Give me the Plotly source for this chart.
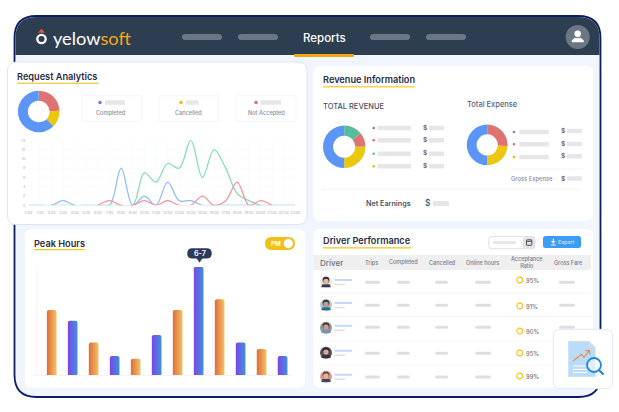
import plotly.graph_objects as go

# ---------- data ----------
hours = list(range(24))
hour_labels = [f"{h}:00" for h in hours]
y_ticks = [0, 2, 4, 6, 8, 10, 12, 14]
N = None
blue_requests = [0, 0, 0, 1, 0, 0, 0, 0, 8, 0, 2, 0, 5, 1, 1, 0, 0, 0, 0, 0, 0, 0, 0, 0]
green_requests = [N, N, 0, 0, 0, N, 0, 0, 0, 0, 7, 5, 9, 8, 14, 6, 12, 8, 2.5, 1, 0, N, N, N]
red_requests = [N, N, N, N, N, N, 0, 1, 0, 0, 1, 0, 1, 0, 0, 2, 0, 1, 5, 0, 1, 0, N, N]

peak_labels = ["11-12", "12-1", "1-2", "2-3", "3-4", "4-5", "5-6", "6-7", "7-8", "8-9", "9-10", "10-11"]
peak_values = [60, 50, 30, 17.5, 15, 37, 60, 100, 70, 30, 24, 17.5]

request_donut = [24.5, 13, 62.5]
revenue_donut = [14, 11, 25, 50]
expense_donut = [26, 24, 50]

stat_labels = ["Completed", "Cancelled", "Not Accepted"]
table_headers = ["Trips", "Completed", "Cancelled", "Online hours", "Acceptance<br>Ratio", "Gross Fare"]
driver_ratio = ["95%", "91%", "90%", "95%", "99%"]

# ---------- colours ----------
BLUE, RED, YEL, GRN = "#5b96f7", "#df7373", "#ebc70e", "#55bd9a"
PILL = "#e6e6e8"
W, H = 619, 412
FONT = "Inter"


def fx(x):
    return x / W


def fy(y):
    return 1 - y / H


shapes, notes = [], []


def rrect(x0, y0, x1, y1, r, fill, line=None, lw=0, layer="below"):
    a, b = x0, x1
    c, d = y0, y1
    p = (f"M {fx(a + r)} {fy(c)} L {fx(b - r)} {fy(c)} Q {fx(b)} {fy(c)} {fx(b)} {fy(c + r)} "
         f"L {fx(b)} {fy(d - r)} Q {fx(b)} {fy(d)} {fx(b - r)} {fy(d)} L {fx(a + r)} {fy(d)} "
         f"Q {fx(a)} {fy(d)} {fx(a)} {fy(d - r)} L {fx(a)} {fy(c + r)} Q {fx(a)} {fy(c)} {fx(a + r)} {fy(c)} Z")
    shapes.append(dict(type="path", path=p, xref="paper", yref="paper", fillcolor=fill, layer=layer,
                       line=dict(color=line or "rgba(0,0,0,0)", width=lw)))


def circ(cx, cy, r, fill, line=None, lw=0):
    shapes.append(dict(type="circle", xref="paper", yref="paper", x0=fx(cx - r), x1=fx(cx + r), y0=fy(cy + r),
                       y1=fy(cy - r), fillcolor=fill, layer="below",
                       line=dict(color=line or "rgba(0,0,0,0)", width=lw)))


def poly(pts, color, lw=1, fill=None, close=False):
    p = "M " + " L ".join(f"{fx(x)} {fy(y)}" for x, y in pts) + (" Z" if close else "")
    shapes.append(dict(type="path", path=p, xref="paper", yref="paper", layer="below",
                       fillcolor=fill or "rgba(0,0,0,0)", line=dict(color=color, width=lw)))


def pill(x0, x1, yc, h, color=PILL):
    rrect(x0, yc - h / 2, x1, yc + h / 2, h / 2, color)


def text(x, y, s, size, color, anchor="left", weight=400, family=FONT, valign="middle"):
    notes.append(dict(x=fx(x), y=fy(y), xref="paper", yref="paper", text=s, showarrow=False, xanchor=anchor,
                      yanchor=valign, borderpad=0, borderwidth=0,
                      font=dict(size=size, color=color, family=family, weight=weight)))


# ---------- frame ----------
FR = "#0d1c66"
rrect(14.5, 16, 600.5, 397, 22, "#f0f5fe", FR, 1.8)
head = (f"M {fx(15.5)} {fy(55)} L {fx(15.5)} {fy(38)} Q {fx(15.5)} {fy(17)} {fx(37)} {fy(17)} L {fx(578)} {fy(17)} "
        f"Q {fx(599.5)} {fy(17)} {fx(599.5)} {fy(38)} L {fx(599.5)} {fy(55)} Z")
shapes.append(dict(type="path", path=head, xref="paper", yref="paper", fillcolor="#2d3e50", layer="below",
                   line=dict(color="rgba(0,0,0,0)", width=0)))

# header
circ(41.5, 39, 4.2, "rgba(0,0,0,0)", "#ffffff", 2.3)
poly([(38.5, 32.5), (41.5, 29), (44.5, 32.5)], "#e4593a", 0.5, "#e4593a", True)
text(52.5, 37.5, "yelow<span style='color:#f5a81c'>soft</span>", 18.2, "#ffffff", weight=400, family="Lato")
for a, b in [(182, 222), (238, 278), (370, 410), (426, 466)]:
    pill(a, b, 37, 6, "#6b7785")
text(324.5, 38, "Reports", 11.5, "#ffffff", "center", 500)
rrect(294, 54, 354, 57, 1, "#f3a712")
circ(577.7, 37, 12, "#6b7785")
circ(577.7, 33.8, 3.2, "#ffffff")
poly([(572, 42), (572, 40.5), (574.5, 38.2), (581, 38.2), (583.5, 40.5), (583.5, 42)], "#ffffff", 0.5, "#ffffff", True)

# ---------- request analytics card ----------
rrect(7.5, 62, 307, 224.5, 9, "#ffffff", "#dfe5f0", 1)
text(17, 76, "Request Analytics", 9.2, "#2a2d45", weight=600)
rrect(17, 82.8, 99, 83.8, 0.4, "#f3b61f")
stat_boxes = [(82, 141.6, 100, 105, 125, 111.5, "#7b7be8"),
              (159, 218.7, 181, 186, 198.5, 188, "#eebb10"),
              (236, 296, 256, 261, 281, 266, "#e46a72")]
for (a, b, dx, p0, p1, lc, col), lab in zip(stat_boxes, stat_labels):
    rrect(a, 95.7, b, 121.3, 1, "#ffffff", "#f2f3f6", 0.8)
    circ(dx, 102.5, 1.8, col)
    rrect(p0, 100.3, p1, 104.8, 0.5, PILL)
    text(lc, 113, lab, 5.6, "#8a8f9c", "center", 500)

# ---------- revenue card ----------
rrect(313.3, 66, 593, 221, 7, "#ffffff")
text(323, 79, "Revenue Information", 9.2, "#2a2d45", weight=600)
rrect(323, 86, 415, 87.6, 0.5, "#fdd34e")
text(323, 106, "TOTAL REVENUE", 7.5, "#4a4f6a", weight=500)
text(467, 104.5, "Total Expense", 7.5, "#5a5f78", weight=500)
rev_rows = [(128, "#7b7be8"), (140.3, "#e46a72"), (153.7, GRN), (166.3, "#eebb10")]
for yy, col in rev_rows:
    circ(373.7, yy, 1.3, col)
    rrect(377.7, yy - 2.2, 411, yy + 2.2, 0.4, PILL)
    text(424.7, yy - 0.3, "$", 6.5, "#55586e", "center", 600)
    rrect(429, yy - 2.2, 444, yy + 2.2, 0.4, PILL)
exp_rows = [(132, 131, "#7b7be8"), (144.3, 144, "#e46a72"), (157, 156.3, "#eebb10")]
for yy, py, col in exp_rows:
    circ(514, yy, 1.3, col)
    rrect(519.3, yy - 2.2, 548.7, yy + 2.2, 0.4, PILL)
    text(563, py, "$", 6.5, "#55586e", "center", 600)
    rrect(567, py - 2.2, 582, py + 2.2, 0.4, PILL)
poly([(511, 169), (582.7, 169)], "#f0f0f2", 0.8)
text(553.3, 179.3, "Gross Expense", 5.8, "#8a8ca0", "right", 500)
text(563, 178.5, "$", 6.5, "#55586e", "center", 600)
rrect(567, 176.3, 582, 180.7, 0.4, PILL)
poly([(322, 189.3), (580, 189.3)], "#efeff2", 0.8)
text(411, 203.7, "Net Earnings", 7.2, "#4f5068", "right", 600)
text(428, 203, "$", 8.5, "#55586e", "center", 500)
rrect(433, 201, 449, 206, 0.4, PILL)

# ---------- peak hours card ----------
rrect(25, 229, 305, 388, 7, "#ffffff")
text(34, 243.5, "Peak Hours", 9.2, "#2a2d45", weight=600)
rrect(34, 249, 85, 250.2, 0.4, "#f5c518")
rrect(265, 237, 295, 250, 6.5, "#f2c014")
circ(288.3, 243.5, 5, "#ffffff", "#eeb52a", 0.8)
text(275.5, 243.7, "PM", 6.2, "#ffffff", "center", 700)
poly([(36.7, 266), (36.7, 375)], "#f1f2f5", 0.8)
poly([(34, 375.4), (291, 375.4)], "#f1f2f5", 1)
rrect(187.3, 248.3, 211.7, 258.5, 5, "#2d3a5c")
poly([(196.5, 258), (199.5, 262.5), (202.5, 258)], "#2d3a5c", 0.2, "#2d3a5c", True)
text(199.5, 253.6, "6-7", 7.2, "#ffffff", "center", 600)

# ---------- driver card ----------
rrect(313.3, 229, 593, 387.7, 7, "#ffffff")
text(323, 241, "Driver Performance", 9.2, "#2a2d45", weight=600)
rrect(323, 247.3, 411, 248.6, 0.4, "#f5c518")
rrect(488.8, 236.6, 535, 248.8, 3, "#ffffff", "#dfdfe2", 1)
rrect(523, 237, 535, 248.5, 2.5, "#e4e4e6")
pill(493, 516, 242.5, 2.8, "#e6e6e8")
rrect(526.5, 239.8, 531.8, 245.3, 0.6, "rgba(0,0,0,0)", "#3b3f50", 0.9)
poly([(526.5, 241.3), (531.8, 241.3)], "#3b3f50", 0.9)
rrect(543, 236, 581, 248, 2.5, "#3d9cf5")
poly([(553.3, 238.8), (553.3, 242.5)], "#ffffff", 1.1)
poly([(551.3, 241.3), (553.3, 243.6), (555.3, 241.3)], "#ffffff", 0.4, "#ffffff", True)
poly([(551, 245), (555.6, 245)], "#ffffff", 1)
text(566, 242.3, "Export", 5.2, "#d8ebff", "center", 500)
rrect(313.3, 255, 591, 270, 0, "#efefef")
text(320, 263, "Driver", 8, "#6d6f7b", weight=500)
header_x = [371.7, 403.3, 442, 482.7, 526.7, 568]
for hx, lab in zip(header_x, table_headers):
    text(hx, 262.7, lab, 5.5, "#777b8a", "center", 500)

row_y = [282.3, 305.3, 327.3, 353.3, 377]
ring_y = [280, 306, 331, 353, 376]
avatar_y = [282, 305, 327.7, 352.7, 376.7]
skin = ["#e3b9a0", "#c99a80", "#c9a18a", "#d7ab94", "#e0b7a0"]
hair = ["#2b2b33", "#25384a", "#4a3a30", "#2e2528", "#6b4a3a"]
back = ["#e8e8ec", "#b9c6d0", "#8e98a6", "#55505a", "#e59a94"]
shirt = ["#3a3a48", "#1f6f9a", "#7d8fb0", "#33303a", "#2f4060"]
for sep in [293.3, 316.5, 341, 365]:
    poly([(319, sep), (590, sep)], "#f3f3f4", 0.9)
for i, (ry, rg, ay) in enumerate(zip(row_y, ring_y, avatar_y)):
    circ(326, ay, 6, back[i])
    poly([(321.5, ay + 5), (322.5, ay + 2.6), (329.5, ay + 2.6), (330.5, ay + 5)], shirt[i], 0.5, shirt[i], True)
    circ(326, ay - 1.8, 3.4, hair[i])
    circ(326, ay - 0.6, 2.7, skin[i])
    rrect(334.3, ay - 3, 352.3, ay - 0.9, 1, "#c5d9f7")
    rrect(334.3, ay + 1.7, 345, ay + 3.2, 0.7, "#e0e0e0")
    for a, b in [(365, 380), (397, 410), (435, 448), (475, 491), (559, 575)]:
        pill(a, b, ry, 3, "#dfdfe1")
    circ(519.7, rg, 2.9, "#ffffff", "#f5c518", 1.1)
    text(526, rg, driver_ratio[i], 5.8, "#6d6f7b", weight=500)

# ---------- icon card ----------
rrect(553.3, 329.3, 612.7, 388.7, 7, "#ffffff", "#dfe5f0", 0.9)
poly([(568.3, 341.3), (589, 341.3), (595.3, 347.5), (595.3, 376.7), (568.3, 376.7)], "#bcdbf8", 0.3, "#bcdbf8", True)
poly([(589, 341.3), (595.3, 347.5), (589, 347.5)], "#d5dbe6", 0.3, "#d5dbe6", True)
for ly in [366, 369.4, 372.5]:
    poly([(573, ly), (587, ly)], "#ffffff", 1)
poly([(573.3, 360.7), (581.7, 354.3), (584, 357.3), (589.3, 350.7)], "#e98a4a", 1.1)
poly([(585.5, 350.6), (589.6, 350.4), (589.6, 354.4)], "#e98a4a", 1.1)
circ(594, 365, 7, "rgba(255,255,255,0.55)", "#1f86e0", 1.8)
poly([(599, 370), (603.5, 374.5)], "#1f86e0", 2.2)

# ---------- traces ----------
fig = go.Figure()


def donut(vals, cols, cx, cy, r, hole=0.52):
    fig.add_trace(go.Pie(values=vals, marker=dict(colors=cols, line=dict(width=0)), hole=hole, sort=False,
                         direction="clockwise", rotation=0, textinfo="none", showlegend=False, hoverinfo="skip",
                         domain=dict(x=[fx(cx - r), fx(cx + r)], y=[fy(cy + r), fy(cy - r)])))


donut(request_donut, [RED, YEL, BLUE], 38.7, 111.5, 20.8)
donut(revenue_donut, [GRN, RED, YEL, BLUE], 344.2, 146.8, 21.2)
donut(expense_donut, [RED, YEL, BLUE], 487.2, 144.9, 20.4)

for vals, col, name in [(blue_requests, "#8fbcf8", "Blue"), (green_requests, "#86dcb9", "Green"),
                        (red_requests, "#f4939f", "Red")]:
    fig.add_trace(go.Scatter(x=hours, y=vals, mode="lines", name=name, showlegend=False, xaxis="x", yaxis="y",
                             cliponaxis=False, line=dict(color=col, width=1.25, shape="spline", smoothing=1.0)))

fig.add_trace(go.Bar(x=list(range(12)), y=peak_values, xaxis="x2", yaxis="y2", width=0.46, showlegend=False,
                     customdata=peak_labels, hovertemplate="%{customdata}<extra></extra>",
                     marker=dict(color=["#e89a4c", "#5f6de0"] * 6, line=dict(width=0))))

fig.update_layout(
    width=W, height=H, margin=dict(l=0, r=0, t=0, b=0, pad=0, autoexpand=False), paper_bgcolor="#ffffff",
    plot_bgcolor="rgba(0,0,0,0)",
    shapes=shapes, annotations=notes, font=dict(family=FONT), barcornerradius=2,
    xaxis=dict(domain=[fx(28.3), fx(295.3)], range=[0, 23], tickmode="array", tickvals=hours, ticktext=hour_labels,
               tickangle=0, ticks="", tickfont=dict(size=3.6, color="#a4acbc"), showgrid=True, gridcolor="#fafbfc",
               gridwidth=0.6, zeroline=False, showline=False, fixedrange=True, ticklabelstandoff=4),
    yaxis=dict(domain=[fy(205.3), fy(140.3)], range=[0, 14], tickmode="array", tickvals=y_ticks, ticks="",
               tickfont=dict(size=3.6, color="#a4acbc"), showgrid=True, gridcolor="#fafbfc", gridwidth=0.6,
               zeroline=False, showline=False, fixedrange=True, ticklabelstandoff=2),
    xaxis2=dict(domain=[fx(36.5), fx(291)], range=[-0.724, 11.4], visible=False, fixedrange=True, anchor="y2"),
    yaxis2=dict(domain=[fy(375), fy(266.7)], range=[0, 100], visible=False, fixedrange=True, anchor="x2"),
)

post = """
document.body.style.margin='0';document.body.style.overflow='hidden';
var gd=document.querySelector('.js-plotly-plot');
var svg=gd.querySelector('svg.main-svg');
var ns='http://www.w3.org/2000/svg';
var defs=svg.querySelector('defs');
function grad(id,a,b){var g=document.createElementNS(ns,'linearGradient');g.setAttribute('id',id);
g.setAttribute('x1','0');g.setAttribute('x2','1');g.setAttribute('y1','0');g.setAttribute('y2','0');
[[0,a],[1,b]].forEach(function(s){var e=document.createElementNS(ns,'stop');e.setAttribute('offset',s[0]);
e.setAttribute('stop-color',s[1]);g.appendChild(e);});defs.appendChild(g);}
grad('barOrange','#e06d38','#f2c268');grad('barBlue','#7d45e8','#3d93db');
gd.querySelectorAll('.barlayer .point path').forEach(function(p,i){p.style.fill='url(#'+(i%2?'barBlue':'barOrange')+')';});
"""
fig.write_html("out.html", post_script=post, config=dict(displayModeBar=False, responsive=False))
